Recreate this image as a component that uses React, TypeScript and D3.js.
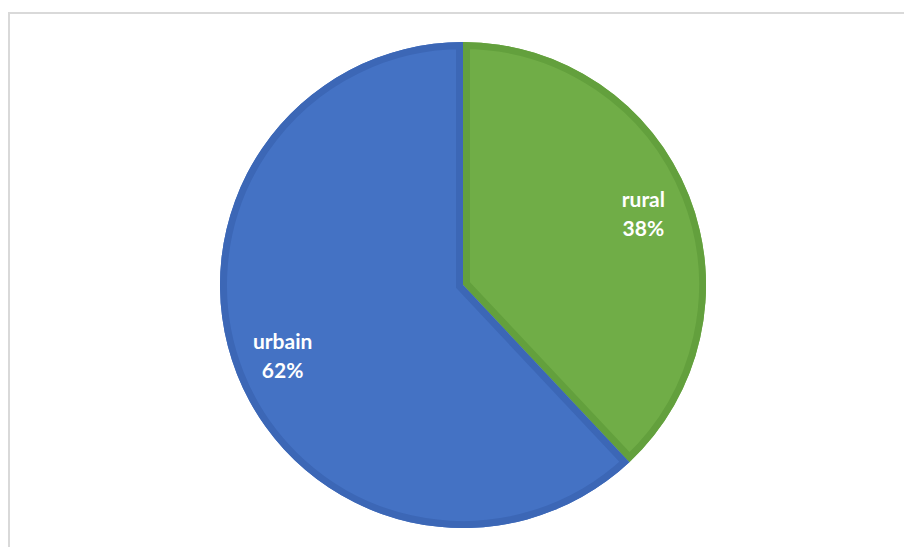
import React from "react";
import * as d3 from "d3";

const categories = ["rural", "urbain"];
const values = [38, 62];
const fills = ["#70AD47", "#4472C4"];
const borders = ["#63A03D", "#3C67B6"];

export default function App() {
  const W = 904, H = 547;
  const cx = 463, cy = 285, r = 243;
  const pie = d3.pie<number>().sort(null).value((d) => d)(values);
  const arc = d3.arc<d3.PieArcDatum<number>>().innerRadius(0).outerRadius(r);
  const labelArc = d3.arc<d3.PieArcDatum<number>>().innerRadius(194).outerRadius(194);
  return (
    <svg width={W} height={H} style={{ position: "absolute", left: 0, top: 0 }}>
      <rect x={0} y={0} width={W} height={H} fill="#fff" />
      <rect x={9} y={13} width={W + 20} height={H + 20} fill="none" stroke="#d9d9d9" strokeWidth={2} />
      <defs>
        {pie.map((p, i) => (
          <clipPath id={`clip${i}`} key={i}>
            <path d={arc(p) || ""} />
          </clipPath>
        ))}
      </defs>
      <g transform={`translate(${cx},${cy})`}>
        {pie.map((p, i) => (
          <g key={i}>
            <path d={arc(p) || ""} fill={fills[i]} />
            <path d={arc(p) || ""} fill="none" stroke={borders[i]} strokeWidth={14} clipPath={`url(#clip${i})`} strokeLinejoin="miter" />
          </g>
        ))}
        {pie.map((p, i) => {
          const [lx, ly] = labelArc.centroid(p);
          return (
            <text key={i} x={lx} y={ly} textAnchor="middle" fill="#fff" fontFamily="Lato, 'Open Sans', sans-serif" fontWeight="bold" fontSize={21}>
              <tspan x={lx} dy={-7}>{categories[i]}</tspan>
              <tspan x={lx} dy={29}>{`${values[i]}%`}</tspan>
            </text>
          );
        })}
      </g>
    </svg>
  );
}
